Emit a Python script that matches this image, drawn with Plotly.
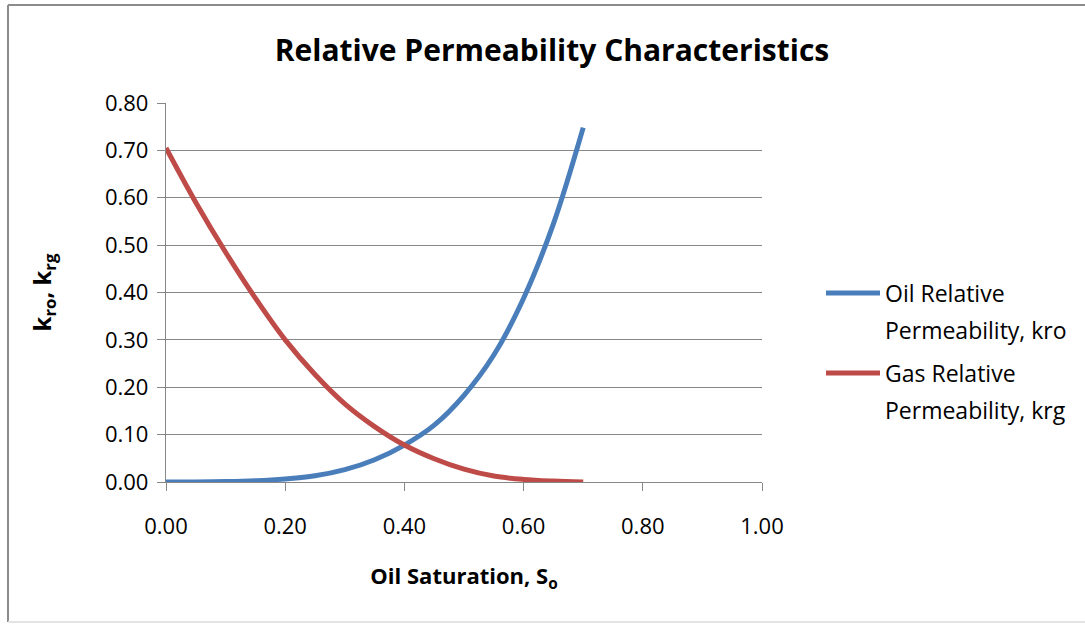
import plotly.graph_objects as go

# ---- data ----
oil_saturation = [0.00, 0.05, 0.10, 0.15, 0.20, 0.25, 0.30, 0.35, 0.40, 0.45, 0.50, 0.55, 0.60, 0.65, 0.70]
kro = [0.000, 0.0001, 0.0008, 0.0027, 0.0065, 0.013, 0.026, 0.047, 0.078, 0.120, 0.183, 0.268, 0.388, 0.545, 0.748]
krg = [0.705, 0.590, 0.485, 0.388, 0.300, 0.227, 0.165, 0.117, 0.078, 0.049, 0.027, 0.0125, 0.0055, 0.002, 0.000]
series_names = ["Oil Relative<br>Permeability, kro", "Gas Relative<br>Permeability, krg"]
series_values = [kro, krg]
series_colors = ["#4A7EBB", "#BE4B48"]
x_ticks = [0.0, 0.2, 0.4, 0.6, 0.8, 1.0]
y_ticks = [0.0, 0.1, 0.2, 0.3, 0.4, 0.5, 0.6, 0.7, 0.8]

W, H = 1085, 624
L, R, T, B = 166, 323, 103, 142
PW, PH = W - L - R, H - T - B

def px_x(px):
    return (px - L) / PW

def px_y(py):
    return (H - B - py) / PH

FONT = "Open Sans"
GRID = "#878787"

fig = go.Figure()
for name, vals, col in zip(series_names, series_values, series_colors):
    fig.add_trace(go.Scatter(
        x=oil_saturation, y=vals, mode="lines", name=name.replace("<br>", " "),
        line=dict(color=col, width=5, shape="spline", smoothing=1.0),
        showlegend=False,
    ))

# custom legend (long line samples, wrapped text) like the original
for i, (name, col) in enumerate(zip(series_names, series_colors)):
    yc = 293 + 80 * i
    fig.add_shape(type="line", xref="paper", yref="paper",
                  x0=px_x(826), x1=px_x(880), y0=px_y(yc), y1=px_y(yc),
                  line=dict(color=col, width=5))
    for j, part in enumerate(name.split("<br>")):
        fig.add_annotation(xref="paper", yref="paper", x=px_x(883), y=px_y(yc + 37 * j),
                           xanchor="left", yanchor="middle", align="left", showarrow=False,
                           text=part, font=dict(family=FONT, size=23, color="#000000"))

# outer chart border (left and top dark, bottom faint)
fig.add_shape(type="line", xref="paper", yref="paper",
              x0=px_x(8), x1=px_x(8), y0=px_y(622), y1=px_y(5),
              line=dict(color="#8C8C8C", width=2), layer="below")
fig.add_shape(type="line", xref="paper", yref="paper",
              x0=px_x(8), x1=px_x(1300), y0=px_y(5), y1=px_y(5),
              line=dict(color="#8C8C8C", width=2), layer="below")
fig.add_shape(type="line", xref="paper", yref="paper",
              x0=px_x(8), x1=px_x(1300), y0=px_y(622), y1=px_y(622),
              line=dict(color="#E4E4E4", width=2), layer="below")

fig.update_layout(
    width=W, height=H, autosize=False,
    margin=dict(l=L, r=R, t=T, b=B, pad=0),
    paper_bgcolor="white", plot_bgcolor="white",
    font=dict(family=FONT, color="#000000"),
    title=dict(text="<b>Relative Permeability Characteristics</b>",
               x=552 / W, xanchor="center", y=1 - 50 / H, yanchor="middle",
               font=dict(family=FONT, size=30, color="#000000")),
    xaxis=dict(range=[0, 1], tickvals=x_ticks, tickformat=".2f",
               showgrid=False, zeroline=False, showline=True, linecolor=GRID, linewidth=1.3,
               ticks="outside", ticklen=8, tickcolor=GRID, tickwidth=1.3,
               tickfont=dict(family=FONT, size=22), ticklabelstandoff=16,
               title=dict(text="<b>Oil Saturation, S<sub>o</sub></b>", standoff=30,
                          font=dict(family=FONT, size=22))),
    yaxis=dict(range=[0, 0.8], tickvals=y_ticks, tickformat=".2f",
               showgrid=True, gridcolor=GRID, gridwidth=1.3,
               zeroline=False, showline=True, linecolor=GRID, linewidth=1.3,
               ticks="outside", ticklen=8, tickcolor=GRID, tickwidth=1.3,
               tickfont=dict(family=FONT, size=22), ticklabelstandoff=4,
               title=dict(text="<b>k<sub>ro</sub>, k<sub>rg</sub></b>", standoff=46,
                          font=dict(family=FONT, size=24))),
)

fig.write_html("out.html")
